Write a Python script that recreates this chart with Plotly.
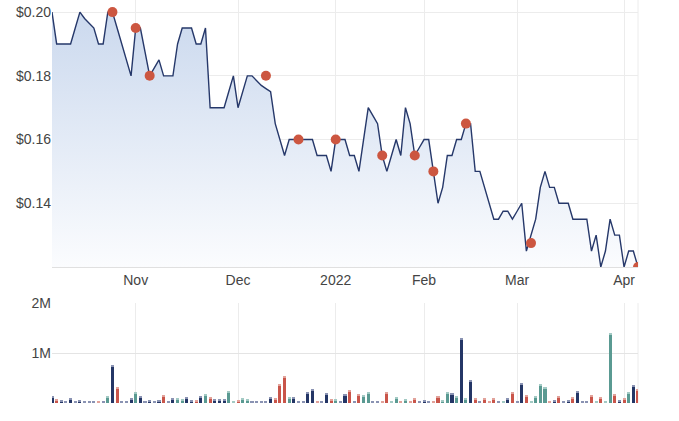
import pandas as pd
import plotly.graph_objects as go

# ---------------- data ----------------
holidays = ["2021-12-27", "2021-12-28", "2022-01-03", "2022-01-26"]
days = [d.strftime("%Y-%m-%d") for d in pd.bdate_range("2021-10-06", "2022-04-06")
        if d.strftime("%Y-%m-%d") not in holidays]

price = [
    0.20, 0.19, 0.19, 0.19, 0.19, 0.195, 0.20, 0.198, 0.1965, 0.195,
    0.19, 0.19, 0.20, 0.20, 0.195, 0.19, 0.185, 0.18, 0.195, 0.195,
    0.1875, 0.18, 0.1825, 0.185, 0.18, 0.18, 0.18, 0.19, 0.195, 0.195,
    0.195, 0.19, 0.19, 0.195, 0.17, 0.17, 0.17, 0.17, 0.175, 0.18,
    0.17, 0.175, 0.18, 0.18, 0.1785, 0.177, 0.176, 0.175, 0.165, 0.16,
    0.155, 0.16, 0.16, 0.16, 0.16, 0.16, 0.16, 0.155, 0.155, 0.155,
    0.15, 0.16, 0.16, 0.16, 0.155, 0.155, 0.15, 0.16, 0.17, 0.1675,
    0.165, 0.155, 0.15, 0.155, 0.16, 0.155, 0.17, 0.165, 0.155, 0.1575,
    0.16, 0.16, 0.15, 0.14, 0.145, 0.155, 0.155, 0.16, 0.16, 0.165,
    0.165, 0.15, 0.15, 0.145, 0.14, 0.135, 0.135, 0.1375, 0.1375, 0.135,
    0.1375, 0.14, 0.125, 0.13, 0.135, 0.145, 0.15, 0.145, 0.145, 0.14,
    0.14, 0.14, 0.135, 0.135, 0.135, 0.135, 0.125, 0.13, 0.12, 0.125,
    0.135, 0.13, 0.13, 0.12, 0.125, 0.125, 0.12,
]

volume_k = [
    120, 60, 50, 20, 80, 20, 40, 20, 20, 20,
    20, 20, 120, 740, 300, 20, 20, 80, 200, 120,
    20, 55, 20, 40, 140, 20, 80, 80, 60, 100,
    40, 40, 130, 160, 100, 60, 60, 60, 220, 20,
    40, 95, 75, 35, 20, 20, 20, 115, 95, 375,
    530, 115, 115, 20, 20, 210, 260, 35, 35, 195,
    75, 75, 20, 175, 240, 20, 175, 155, 215, 20,
    20, 20, 215, 35, 115, 35, 75, 35, 95, 20,
    55, 35, 20, 135, 55, 215, 195, 135, 1295, 95,
    455, 95, 35, 95, 20, 95, 35, 20, 95, 215,
    20, 395, 155, 35, 135, 375, 315, 20, 55, 135,
    35, 55, 115, 235, 35, 20, 155, 20, 115, 20,
    1395, 175, 55, 95, 215, 355, 275,
]

# N = navy, R = red, T = teal
volume_dir = list(
    "NRNNNNNNNN" "RNTNRNNNTN" "NNNNRNNTTN" "NRNTRNNNTT" "RTTNNNNNRR"
    "RTNNNNNRNN" "RTNNRNRTTN" "NRRTTRTRRN" "NNRRTTNTNT" "NRNRRRNTNR"
    "NNRTTTTRNR" "NNRNNNRTRT" "TRNRTNR"
)

marker_dates = ["2021-10-25", "2021-11-01", "2021-11-04", "2021-12-09", "2021-12-20",
                "2022-01-04", "2022-01-18", "2022-01-28", "2022-02-03", "2022-02-14",
                "2022-03-04", "2022-04-06"]
marker_prices = [0.20, 0.195, 0.18, 0.18, 0.16, 0.16, 0.155, 0.155, 0.15, 0.165, 0.1275, 0.12]

tick_dates = ["2021-11-01", "2021-12-01", "2022-01-04", "2022-02-01", "2022-03-01", "2022-04-01"]
tick_text = ["Nov", "Dec", "2022", "Feb", "Mar", "Apr"]
price_ticks = [0.14, 0.16, 0.18, 0.20]
price_tick_text = ["$0.14", "$0.16", "$0.18", "$0.20"]
vol_ticks = [1e6, 2e6]
vol_tick_text = ["1M", "2M"]

# ---------------- styles ----------------
LINE = "#26386a"
DOT = "#cc5640"
GRID = "#ececec"
BAR = {"N": "#243666", "R": "#c9554a", "T": "#5a9a92"}
CAP = {"N": "#8a93b3", "R": "#e2a29a", "T": "#a3cac4"}
CAP_H = 20000

volume = [v * 1000 for v in volume_k]

fig = go.Figure()
fig.add_trace(go.Scatter(
    x=days, y=price, mode="lines",
    line=dict(color=LINE, width=1.4),
    fill="tozeroy",
    fillgradient=dict(type="vertical",
                      colorscale=[[0, "#fbfcfe"], [1, "#cbd9ee"]],
                      start=0.12, stop=0.20),
    hoverinfo="skip", xaxis="x", yaxis="y"))
fig.add_trace(go.Scatter(
    x=marker_dates, y=marker_prices, mode="markers",
    marker=dict(color=DOT, size=10),
    xaxis="x", yaxis="y"))

fig.add_trace(go.Bar(
    x=days, y=volume, width=0.66,
    marker=dict(color=[BAR[c] for c in volume_dir], line=dict(width=0)),
    xaxis="x2", yaxis="y2"))
fig.add_trace(go.Bar(
    x=days, y=[min(CAP_H, v) for v in volume],
    base=[max(v - CAP_H, 0) for v in volume], width=0.66,
    marker=dict(color=[CAP[c] for c in volume_dir], line=dict(width=0)),
    xaxis="x2", yaxis="y2"))

font = dict(family="Liberation Sans, Arial, sans-serif", size=14, color="#444")

fig.update_layout(
    width=679, height=421,
    margin=dict(l=52, r=41, t=0, b=18, autoexpand=False),
    paper_bgcolor="white", plot_bgcolor="white",
    showlegend=False, barmode="overlay", bargap=0,
    font=font,
    xaxis=dict(type="category", categoryorder="array", categoryarray=days,
               range=[0, len(days) - 1], tickmode="array",
               tickvals=tick_dates, ticktext=tick_text,
               showgrid=True, gridcolor=GRID, gridwidth=1,
               showline=True, linecolor="#e0e0e0", linewidth=1,
               ticks="", anchor="y", domain=[0, 1], automargin=False),
    yaxis=dict(domain=[0.3375, 1], range=[0.12, 0.2038],
               tickmode="array", tickvals=price_ticks, ticktext=price_tick_text,
               showgrid=True, gridcolor=GRID, zeroline=False, ticks="",
               showline=False, anchor="x", automargin=False),
    xaxis2=dict(type="category", categoryorder="array", categoryarray=days,
                matches="x", range=[0, len(days) - 1], tickmode="array",
                tickvals=tick_dates, showticklabels=False,
                showgrid=True, gridcolor=GRID, showline=False,
                ticks="", anchor="y2", domain=[0, 1], automargin=False),
    yaxis2=dict(domain=[0, 0.2481], range=[0, 2e6],
                tickmode="array", tickvals=vol_ticks, ticktext=vol_tick_text,
                showgrid=True, gridcolor="#e4e4e4", zeroline=False, ticks="",
                showline=False, anchor="x2", automargin=False),
    shapes=[
        dict(type="line", xref="x domain", yref="y domain", x0=1, x1=1, y0=0, y1=1,
             line=dict(color=GRID, width=1), layer="below"),
        dict(type="line", xref="x2 domain", yref="y2 domain", x0=1, x1=1, y0=0, y1=1,
             line=dict(color=GRID, width=1), layer="below"),
    ],
)

fig.write_html("out.html")
